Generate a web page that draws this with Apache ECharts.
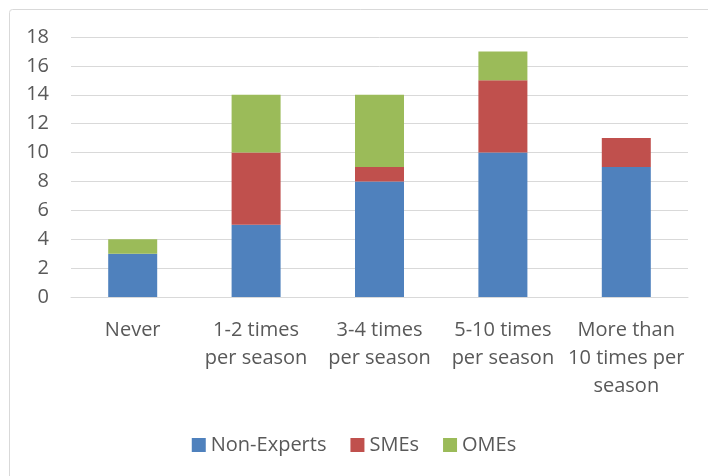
<!DOCTYPE html>
<html>
<head>
<meta charset="utf-8">
<script src="https://cdn.jsdelivr.net/npm/echarts@6/dist/echarts.min.js"></script>
<style>
  html, body { margin: 0; padding: 0; background: #fff; }
  #chart { width: 708px; height: 476px; }
</style>
</head>
<body>
<div id="chart"></div>
<script>
// Frequency categories (x axis)
const categories = [
  'Never',
  '1-2 times\nper season',
  '3-4 times\nper season',
  '5-10 times\nper season',
  'More than\n10 times per\nseason'
];

// Stacked counts per group
const nonExperts = [3, 5, 8, 10, 9];
const smes = [0, 5, 1, 5, 2];
const omes = [1, 4, 5, 2, 0];

const seriesNames = ['Non-Experts', 'SMEs', 'OMEs'];
const seriesColors = ['#4F81BD', '#C0504D', '#9BBB59'];

const yMin = 0, yMax = 18, yStep = 2;

const font = '"Open Sans", "Liberation Sans", sans-serif';
const textColor = '#595959';

const chart = echarts.init(document.getElementById('chart'), null, { renderer: 'canvas' });

function bar(name, data, color) {
  return {
    name: name,
    type: 'bar',
    stack: 'total',
    data: data,
    barWidth: 49,
    itemStyle: { color: color },
    emphasis: { disabled: true }
  };
}

chart.setOption({
  animation: false,
  backgroundColor: '#ffffff',
  graphic: [{
    type: 'rect',
    left: 7, top: 7,
    shape: { x: 0, y: 0, width: 740, height: 500, r: 3 },
    style: { fill: 'none', stroke: '#d9d9d9', lineWidth: 1 },
    silent: true,
    z: -1
  }],
  grid: { left: 71, right: 20, top: 37, bottom: 179, containLabel: false },
  legend: {
    top: 430,
    left: 'center',
    itemWidth: 14,
    itemHeight: 14,
    itemGap: 24,
    icon: 'rect',
    textStyle: { fontFamily: font, fontSize: 20, color: textColor },
    data: seriesNames
  },
  xAxis: {
    type: 'category',
    data: categories,
    axisLine: { show: true, lineStyle: { color: '#d9d9d9', width: 1 } },
    axisTick: { show: false },
    axisLabel: {
      interval: 0,
      margin: 19,
      fontFamily: font,
      fontSize: 20,
      lineHeight: 28,
      color: textColor,
      align: 'center'
    }
  },
  yAxis: {
    type: 'value',
    min: yMin,
    max: yMax,
    interval: yStep,
    axisLine: { show: false },
    axisTick: { show: false },
    splitLine: { lineStyle: { color: '#d9d9d9', width: 1 } },
    axisLabel: {
      margin: 22,
      fontFamily: font,
      fontSize: 20,
      color: textColor
    }
  },
  series: [
    bar(seriesNames[0], nonExperts, seriesColors[0]),
    bar(seriesNames[1], smes, seriesColors[1]),
    bar(seriesNames[2], omes, seriesColors[2])
  ]
});
</script>
</body>
</html>
